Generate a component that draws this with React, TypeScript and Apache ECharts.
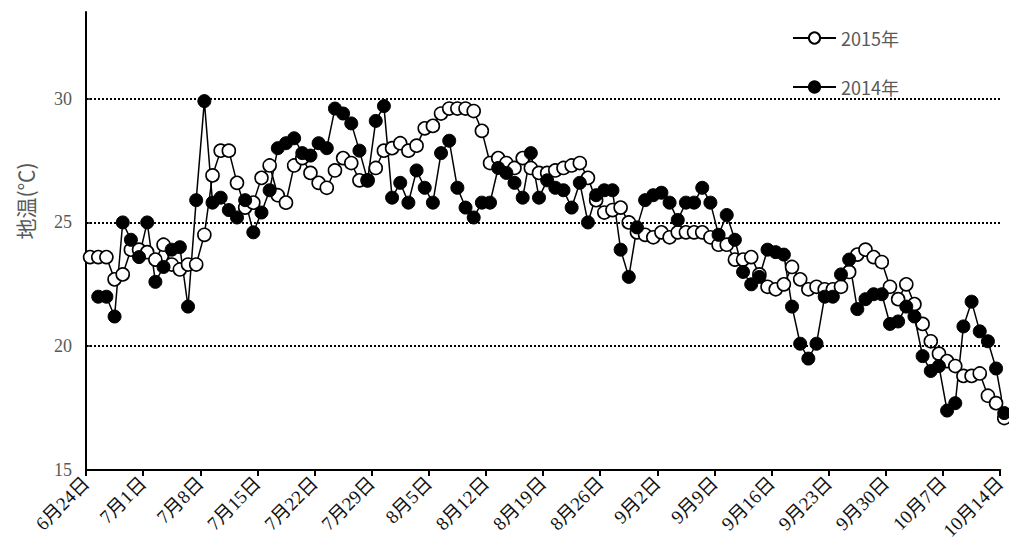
import { useEffect, useRef } from "react";
import * as echarts from "echarts";

const tickLabels = [
  "6月24日", "7月1日", "7月8日", "7月15日", "7月22日", "7月29日", "8月5日", "8月12日",
  "8月19日", "8月26日", "9月2日", "9月9日", "9月16日", "9月23日", "9月30日", "10月7日", "10月14日",
];

const yTicks = [15, 20, 25, 30];
const yGridLines = [20, 25, 30];

const name2015 = "2015年";
const name2014 = "2014年";

// daily soil temperature, 6/24 .. 10/14 (113 days)
const temp2015 = [
  23.6, 23.6, 23.6, 22.7, 22.9, 23.9, 23.9, 23.8, 23.5, 24.1,
  23.3, 23.1, 23.3, 23.3, 24.5, 26.9, 27.9, 27.9, 26.6, 25.6,
  25.8, 26.8, 27.3, 26.1, 25.8, 27.3, 27.6, 27.0, 26.6, 26.4,
  27.1, 27.6, 27.4, 26.7, 26.7, 27.2, 27.9, 28.0, 28.2, 27.9,
  28.1, 28.8, 28.9, 29.4, 29.6, 29.6, 29.6, 29.5, 28.7, 27.4,
  27.6, 27.4, 27.2, 27.6, 27.2, 27.0, 27.0, 27.1, 27.2, 27.3,
  27.4, 26.8, 25.9, 25.4, 25.5, 25.6, 25.0, 24.6, 24.5, 24.4,
  24.6, 24.4, 24.6, 24.6, 24.6, 24.6, 24.4, 24.1, 24.1, 23.5,
  23.5, 23.6, 22.9, 22.4, 22.3, 22.5, 23.2, 22.7, 22.3, 22.4,
  22.3, 22.3, 22.4, 23.0, 23.7, 23.9, 23.6, 23.4, 22.4, 21.9,
  22.5, 21.7, 20.9, 20.2, 19.7, 19.4, 19.2, 18.8, 18.8, 18.9,
  18.0, 17.7, 17.1,
];

const temp2014 = [
  null, 22.0, 22.0, 21.2, 25.0, 24.3, 23.6, 25.0, 22.6, 23.2,
  23.9, 24.0, 21.6, 25.9, 29.9, 25.8, 26.0, 25.5, 25.2, 25.9,
  24.6, 25.4, 26.3, 28.0, 28.2, 28.4, 27.8, 27.7, 28.2, 28.0,
  29.6, 29.4, 29.0, 27.9, 26.7, 29.1, 29.7, 26.0, 26.6, 25.8,
  27.1, 26.4, 25.8, 27.8, 28.3, 26.4, 25.6, 25.2, 25.8, 25.8,
  27.2, 27.0, 26.6, 26.0, 27.8, 26.0, 26.7, 26.4, 26.3, 25.6,
  26.6, 25.0, 26.1, 26.3, 26.3, 23.9, 22.8, 24.8, 25.9, 26.1,
  26.2, 25.8, 25.1, 25.8, 25.8, 26.4, 25.8, 24.5, 25.3, 24.3,
  23.0, 22.5, 22.8, 23.9, 23.8, 23.7, 21.6, 20.1, 19.5, 20.1,
  22.0, 22.0, 22.9, 23.5, 21.5, 21.9, 22.1, 22.1, 20.9, 21.0,
  21.6, 21.2, 19.6, 19.0, 19.2, 17.4, 17.7, 20.8, 21.8, 20.6,
  20.2, 19.1, 17.3,
];

const toPoints = (arr: (number | null)[]) =>
  arr
    .map((v, i) => [i + 0.5, v] as [number, number | null])
    .filter((p) => p[1] !== null);

export default function App() {
  const ref = useRef<HTMLDivElement>(null);

  useEffect(() => {
    const chart = echarts.init(ref.current!, null, { renderer: "svg" });
    const serif = "'Liberation Serif', 'Noto Sans CJK JP', serif";
    chart.setOption({
      animation: false,
      backgroundColor: "#fff",
      grid: { left: 86, right: 4.5, top: 12, bottom: 78 },
      legend: {
        data: [name2015, name2014],
        orient: "vertical",
        left: 787,
        top: 24,
        itemGap: 31,
        itemWidth: 43,
        itemHeight: 14,
        textStyle: { fontSize: 18, color: "#595959", fontFamily: "'Noto Sans CJK SC', sans-serif" },
      },
      xAxis: {
        type: "value",
        min: 0,
        max: 112,
        interval: 7,
        axisLine: { show: true, lineStyle: { color: "#000", width: 2 } },
        axisTick: { show: true, length: 6, lineStyle: { color: "#000", width: 2 } },
        axisLabel: {
          rotate: 45,
          margin: 10,
          fontSize: 19,
          color: "#111",
          fontFamily: serif,
          formatter: (v: number) => tickLabels[Math.round(v / 7)] ?? "",
        },
        splitLine: { show: false },
      },
      yAxis: {
        type: "value",
        min: 15,
        max: 33.5,
        interval: 5,
        axisLine: { show: true, lineStyle: { color: "#000", width: 2 } },
        axisTick: { show: true, inside: true, length: 4, lineStyle: { color: "#000", width: 1.5 }, customValues: yTicks },
        axisLabel: {
          margin: 14,
          fontSize: 18,
          color: "#595959",
          fontFamily: serif,
          customValues: yTicks,
        },
        splitLine: { show: false },
      },
      graphic: [
        {
          type: "text",
          x: 25,
          y: 201,
          rotation: Math.PI / 2,
          style: {
            text: "地温(℃)",
            fill: "#595959",
            fontSize: 21,
            fontFamily: "'Noto Sans CJK SC', sans-serif",
            textAlign: "center",
            textVerticalAlign: "middle",
            align: "center",
            verticalAlign: "middle",
          },
        },
      ],
      series: [
        {
          name: name2015,
          type: "line",
          data: toPoints(temp2015),
          symbol: "circle",
          symbolSize: 13,
          clip: false,
          lineStyle: { color: "#000", width: 1.5 },
          itemStyle: { color: "#fff", borderColor: "#000", borderWidth: 1.6 },
          emphasis: { disabled: true },
          markLine: {
            silent: true,
            symbol: "none",
            label: { show: false },
            lineStyle: { type: [2, 2], color: "#000", width: 2 },
            data: yGridLines.map((v) => ({ yAxis: v })),
          },
        },
        {
          name: name2014,
          type: "line",
          data: toPoints(temp2014),
          symbol: "circle",
          symbolSize: 13,
          clip: false,
          lineStyle: { color: "#000", width: 1.5 },
          itemStyle: { color: "#000", borderColor: "#000", borderWidth: 1 },
          emphasis: { disabled: true },
        },
      ],
    });
    return () => chart.dispose();
  }, []);

  return (
    <div
      ref={ref}
      style={{ position: "fixed", left: 0, top: 0, width: 1009, height: 548, background: "#fff" }}
    />
  );
}
